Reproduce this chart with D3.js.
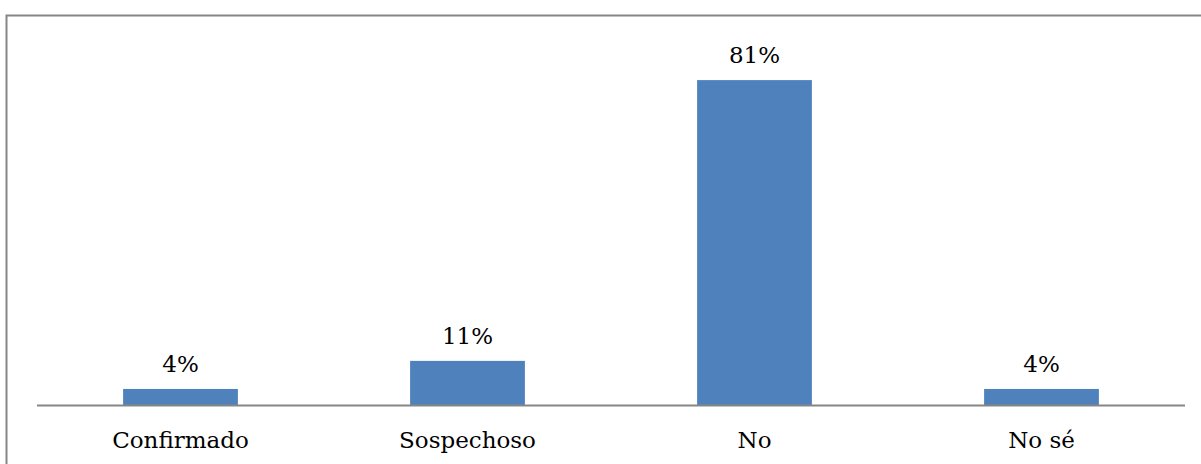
<!DOCTYPE html>
<html>
<head>
<meta charset="utf-8">
<script src="https://cdn.jsdelivr.net/npm/d3@7"></script>
<style>
  body { margin: 0; background: #fff; }
  text { font-family: "DejaVu Serif", "Liberation Serif", serif; fill: #000; }
</style>
</head>
<body>
<div id="chart"></div>
<script>
// Datos del gráfico
const categorias = ["Confirmado", "Sospechoso", "No", "No sé"];
const valores = [4, 11, 81, 4];
const etiquetas = ["4%", "11%", "81%", "4%"];

const width = 1201, height = 464;

const svg = d3.select("#chart").append("svg")
    .attr("width", width)
    .attr("height", height);

// Marco exterior del gráfico
svg.append("rect")
    .attr("x", 6.5).attr("y", 15.5)
    .attr("width", 1300).attr("height", 600)
    .attr("fill", "none")
    .attr("stroke", "#868686")
    .attr("stroke-width", 2);

const x = d3.scaleBand()
    .domain(categorias)
    .range([37, 1185]);

const y = d3.scaleLinear()
    .domain([0, 90])
    .range([405, 44]);

const barW = x.bandwidth() * 0.4;

// Barras
svg.selectAll(".bar")
    .data(valores)
    .enter().append("rect")
    .attr("class", "bar")
    .attr("x", (d, i) => x(categorias[i]) + x.bandwidth() / 2 - barW / 2)
    .attr("y", d => y(d))
    .attr("width", barW)
    .attr("height", d => y(0) - y(d))
    .attr("fill", "#4F81BD");

// Etiquetas de valor
svg.selectAll(".val")
    .data(valores)
    .enter().append("text")
    .attr("class", "val")
    .attr("x", (d, i) => x(categorias[i]) + x.bandwidth() / 2)
    .attr("y", d => y(d) - 17)
    .attr("text-anchor", "middle")
    .style("font-size", "23px")
    .text((d, i) => etiquetas[i]);

// Eje horizontal
svg.append("line")
    .attr("x1", 37).attr("x2", 1185)
    .attr("y1", 405.5).attr("y2", 405.5)
    .attr("stroke", "#868686")
    .attr("stroke-width", 2);

// Etiquetas de categoría
svg.selectAll(".cat")
    .data(categorias)
    .enter().append("text")
    .attr("class", "cat")
    .attr("x", d => x(d) + x.bandwidth() / 2)
    .attr("y", 448)
    .attr("text-anchor", "middle")
    .style("font-size", "23px")
    .text(d => d);
</script>
</body>
</html>
